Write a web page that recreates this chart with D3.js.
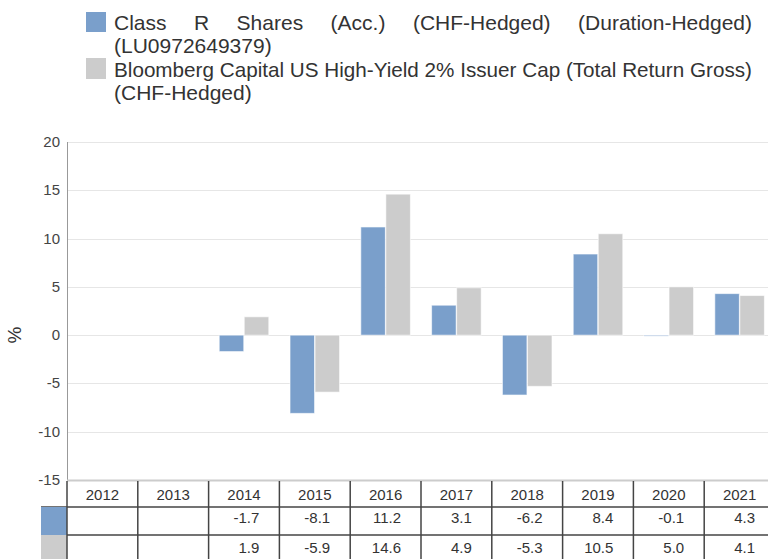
<!DOCTYPE html>
<html>
<head>
<meta charset="utf-8">
<script src="https://cdn.jsdelivr.net/npm/d3@7"></script>
<style>
  body { margin: 0; background: #fff; }
  svg { font-family: "Liberation Sans", Arial, sans-serif; display: block; }
</style>
</head>
<body>
<div id="chart"></div>
<script>
'use strict';

// data
var years = ["2012", "2013", "2014", "2015", "2016", "2017", "2018", "2019", "2020", "2021"];
var fundValues = [null, null, -1.7, -8.1, 11.2, 3.1, -6.2, 8.4, -0.1, 4.3];
var indexValues = [null, null, 1.9, -5.9, 14.6, 4.9, -5.3, 10.5, 5.0, 4.1];
var yTicks = [20, 15, 10, 5, 0, -5, -10, -15];
var seriesNames = [
  ["Class R Shares (Acc.) (CHF-Hedged) (Duration-Hedged)", "(LU0972649379)"],
  ["Bloomberg Capital US High-Yield 2% Issuer Cap (Total Return Gross)", "(CHF-Hedged)"]
];

var fundColor = "#7a9fcb";
var indexColor = "#cccccc";
var gridColor = "#e6e6e6";
var textColor = "#333";

var width = 768, height = 559;
var plot = {left: 67, right: 775, top: 142, bottom: 480};

var svg = d3.select("#chart").append("svg")
  .attr("width", width)
  .attr("height", height);

var x = d3.scaleBand().domain(years).range([plot.left, plot.right]).padding(0);
var y = d3.scaleLinear().domain([-15, 20]).range([plot.bottom, plot.top]);

var groupW = x.bandwidth() * 0.7;
var sub = d3.scaleBand().domain([0, 1]).range([0, groupW]).paddingInner(0.02);

// gridlines
svg.append("g").selectAll("line")
  .data(yTicks.filter(function(t) { return t > -15; }))
  .enter().append("line")
  .attr("x1", plot.left).attr("x2", width)
  .attr("y1", function(d) { return Math.round(y(d)) + 0.5; })
  .attr("y2", function(d) { return Math.round(y(d)) + 0.5; })
  .attr("stroke", gridColor)
  .attr("stroke-width", 1);

// y tick labels
svg.append("g").selectAll("text")
  .data(yTicks)
  .enter().append("text")
  .attr("x", 60)
  .attr("y", function(d) { return y(d) + 5; })
  .attr("text-anchor", "end")
  .attr("font-size", 15)
  .attr("fill", "#444")
  .text(function(d) { return d; });

svg.append("text")
  .attr("transform", "translate(21," + y(0) + ") rotate(-90)")
  .attr("text-anchor", "middle")
  .attr("font-size", 19)
  .attr("fill", textColor)
  .text("%");

// bars
var series = [fundValues, indexValues];
var colors = [fundColor, indexColor];
series.forEach(function(vals, si) {
  svg.append("g").selectAll("rect")
    .data(years.map(function(yr, i) { return {year: yr, v: vals[i]}; })
      .filter(function(d) { return d.v !== null; }))
    .enter().append("rect")
    .attr("x", function(d) { return x(d.year) + (x.bandwidth() - groupW) / 2 + sub(si); })
    .attr("width", sub.bandwidth())
    .attr("y", function(d) { return y(Math.max(0, d.v)); })
    .attr("height", function(d) { return Math.abs(y(d.v) - y(0)); })
    .attr("fill", colors[si])
    .attr("stroke", "#fff")
    .attr("stroke-opacity", 0.6)
    .attr("stroke-width", 1);
});

// axis lines
svg.append("line")
  .attr("x1", plot.left + 0.5).attr("x2", plot.left + 0.5)
  .attr("y1", plot.top).attr("y2", plot.bottom)
  .attr("stroke", "#999");
svg.append("line")
  .attr("x1", plot.left).attr("x2", width)
  .attr("y1", plot.bottom + 0.5).attr("y2", plot.bottom + 0.5)
  .attr("stroke", "#ccc").attr("stroke-width", 2);

// data table
var rowLines = [507, 535];
var table = svg.append("g");
table.selectAll("line.row")
  .data(rowLines)
  .enter().append("line")
  .attr("class", "row")
  .attr("x1", 41).attr("x2", width)
  .attr("y1", function(d) { return d; }).attr("y2", function(d) { return d; })
  .attr("stroke", "#444").attr("stroke-width", 1.5);

table.append("rect").attr("x", 41).attr("y", 507).attr("width", 26).attr("height", 28).attr("fill", fundColor);
table.append("rect").attr("x", 41).attr("y", 535).attr("width", 26).attr("height", 24).attr("fill", indexColor);

table.selectAll("line.col")
  .data(years)
  .enter().append("line")
  .attr("class", "col")
  .attr("x1", function(d) { return x(d); }).attr("x2", function(d) { return x(d); })
  .attr("y1", plot.bottom + 1).attr("y2", height)
  .attr("stroke", "#444").attr("stroke-width", 1.5);

table.selectAll("text.year")
  .data(years)
  .enter().append("text")
  .attr("class", "year")
  .attr("x", function(d) { return x(d) + x.bandwidth() / 2; })
  .attr("y", 500)
  .attr("text-anchor", "middle")
  .attr("font-size", 15)
  .attr("fill", textColor)
  .text(function(d) { return d; });

[[fundValues, 523], [indexValues, 553]].forEach(function(row) {
  table.append("g").selectAll("text")
    .data(years.map(function(yr, i) { return {year: yr, v: row[0][i]}; })
      .filter(function(d) { return d.v !== null; }))
    .enter().append("text")
    .attr("x", function(d) { return x(d.year) + x.bandwidth() - 20; })
    .attr("y", row[1])
    .attr("text-anchor", "end")
    .attr("font-size", 15)
    .attr("fill", textColor)
    .text(function(d) { return d.v.toFixed(1); });
});

// legend
var legX = 114, legRight = 752;
var legend = svg.append("g").attr("font-size", 21).attr("fill", textColor);
legend.append("rect").attr("x", 86).attr("y", 12).attr("width", 20).attr("height", 20).attr("fill", fundColor);
legend.append("rect").attr("x", 86).attr("y", 58).attr("width", 20).attr("height", 21).attr("fill", indexColor);

// first line justified word by word
var words = seriesNames[0][0].split(" ");
var wNodes = words.map(function(w) {
  return legend.append("text").attr("y", 30).text(w);
});
var widths = wNodes.map(function(n) { return n.node().getComputedTextLength(); });
var gap = (legRight - legX - d3.sum(widths)) / (words.length - 1);
var cx = legX;
wNodes.forEach(function(n, i) {
  n.attr("x", cx);
  cx += widths[i] + gap;
});
legend.append("text").attr("x", legX).attr("y", 53).text(seriesNames[0][1]);

legend.append("text").attr("x", legX).attr("y", 77)
  .attr("textLength", legRight - legX)
  .attr("lengthAdjust", "spacingAndGlyphs")
  .text(seriesNames[1][0]);
legend.append("text").attr("x", legX).attr("y", 100).text(seriesNames[1][1]);
</script>
</body>
</html>
